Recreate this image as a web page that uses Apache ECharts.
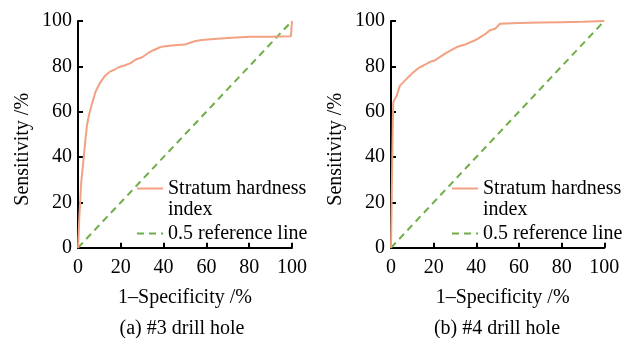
<!DOCTYPE html>
<html>
<head>
<meta charset="utf-8">
<style>html,body{margin:0;padding:0;background:#fff;}#c{width:631px;height:338px;}</style>
<script src="https://cdn.jsdelivr.net/npm/echarts@6/dist/echarts.min.js"></script>
</head>
<body>
<div id="c"></div>
<script>
// Chart (a) #3 drill hole: ROC curve
const fprA = [0, 0.3, 0.6, 1, 1.5, 2.7, 3.5, 4.2, 5, 5.8, 7, 8.1, 9.3, 10.5, 12.8, 15.2, 17, 19, 22, 24.6, 27, 30, 33, 35, 38, 40, 45, 50, 52, 55, 58, 62, 70, 80, 90, 99.5, 100];
const tprA = [0, 6, 13, 20, 28.8, 40, 48, 54, 58, 61, 65, 68.5, 71, 73, 76, 77.8, 78.5, 79.6, 80.5, 81.4, 83, 84, 86, 87, 88.3, 88.8, 89.3, 89.6, 90.3, 91.2, 91.6, 91.9, 92.5, 93, 93.1, 93.3, 100];
// Chart (b) #4 drill hole: ROC curve
const fprB = [0, 0.3, 0.6, 0.9, 1.1, 1.9, 2.7, 3.4, 4.2, 6.6, 9.7, 12.8, 15.9, 18.3, 20.6, 25.3, 30.8, 34.7, 39.4, 44, 46.4, 48.8, 51.1, 60, 70, 80, 90, 100];
const tprB = [0, 20, 40.6, 58.3, 64.2, 65.7, 67, 69.3, 71.5, 73.8, 76.7, 79.2, 80.7, 82, 82.6, 85.6, 88.5, 89.6, 91.5, 94.1, 95.9, 96.6, 98.8, 99.1, 99.3, 99.5, 99.7, 100];
// Reference line
const refX = [0, 100];
const refY = [0, 100];
const axisTicks = [0, 20, 40, 60, 80, 100];
const seriesNames = ['Stratum hardness\nindex', '0.5 reference line'];
const captions = ['(a) #3 drill hole', '(b) #4 drill hole'];
const xName = '1\u2013Specificity /%';
const yName = 'Sensitivity /%';

const FONT = 'Liberation Serif';
const ORANGE = '#F2A183';
const GREEN = '#70AD47';
const zip = (xs, ys) => xs.map((x, i) => [x, ys[i]]);

const grids = [
  {left: 78, top: 21, width: 214, height: 226.7},
  {left: 391, top: 21, width: 213.3, height: 226.7}
];

function xAxis(i) {
  return {
    gridIndex: i, type: 'value', min: axisTicks[0], max: axisTicks[axisTicks.length - 1], interval: 20,
    name: xName, nameLocation: 'middle', nameGap: 40,
    nameTextStyle: {fontFamily: FONT, fontSize: 20, color: '#000', padding: i === 1 ? [0, 0, 0, 10] : [0, 0, 0, 0]},
    axisLine: {show: true, lineStyle: {color: '#000', width: 2}},
    axisTick: {show: true, inside: true, length: 5, lineStyle: {color: '#000', width: 2}},
    axisLabel: {fontFamily: FONT, fontSize: 20, color: '#000', margin: 10},
    splitLine: {show: false}
  };
}
function yAxis(i) {
  return {
    gridIndex: i, type: 'value', min: axisTicks[0], max: axisTicks[axisTicks.length - 1], interval: 20,
    name: yName, nameLocation: 'middle', nameGap: 45, nameRotate: 90,
    nameTextStyle: {fontFamily: FONT, fontSize: 20, color: '#000', padding: [0, 30, 0, 0]},
    axisLine: {show: true, lineStyle: {color: '#000', width: 2}},
    axisTick: {show: true, inside: true, length: 5, lineStyle: {color: '#000', width: 2}},
    axisLabel: {fontFamily: FONT, fontSize: 20, color: '#000', margin: 6},
    splitLine: {show: false}
  };
}
function refSeries(i) {
  return {
    name: seriesNames[1], type: 'line', xAxisIndex: i, yAxisIndex: i, data: zip(refX, refY),
    symbol: 'none', lineStyle: {color: GREEN, width: 2, type: [7, 5]}, itemStyle: {color: GREEN},
    animation: false, z: 2
  };
}
function rocSeries(i, xs, ys) {
  return {
    name: seriesNames[0], type: 'line', xAxisIndex: i, yAxisIndex: i, data: zip(xs, ys),
    symbol: 'none', lineStyle: {color: ORANGE, width: 2}, itemStyle: {color: ORANGE},
    animation: false, z: 3
  };
}
function legends(left) {
  const ts = {fontFamily: FONT, fontSize: 20, color: '#000', lineHeight: 21};
  return [
    {data: [seriesNames[0]], left: left, top: 157, orient: 'vertical', padding: 0, itemWidth: 26, itemHeight: 14, itemGap: 0,
     formatter: n => '\n' + n, itemStyle: {opacity: 0},
     textStyle: ts, selectedMode: false},
    {data: [seriesNames[1]], left: left, top: 223, orient: 'vertical', padding: 0, itemWidth: 26, itemHeight: 14, itemGap: 0,
     itemStyle: {opacity: 0},
     textStyle: ts, selectedMode: false}
  ];
}

const chart = echarts.init(document.getElementById('c'), null, {renderer: 'canvas'});
chart.setOption({
  animation: false,
  backgroundColor: '#fff',
  title: [
    {text: captions[0], left: 182, top: 319, textAlign: 'center', padding: 0,
     textStyle: {fontFamily: FONT, fontSize: 20, fontWeight: 'normal', color: '#000'}},
    {text: captions[1], left: 497, top: 319, textAlign: 'center', padding: 0,
     textStyle: {fontFamily: FONT, fontSize: 20, fontWeight: 'normal', color: '#000'}}
  ],
  grid: grids,
  xAxis: [xAxis(0), xAxis(1)],
  yAxis: [yAxis(0), yAxis(1)],
  legend: legends(136).concat(legends(451)),
  series: [refSeries(0), rocSeries(0, fprA, tprA), refSeries(1), rocSeries(1, fprB, tprB)]
});
</script>
</body>
</html>
